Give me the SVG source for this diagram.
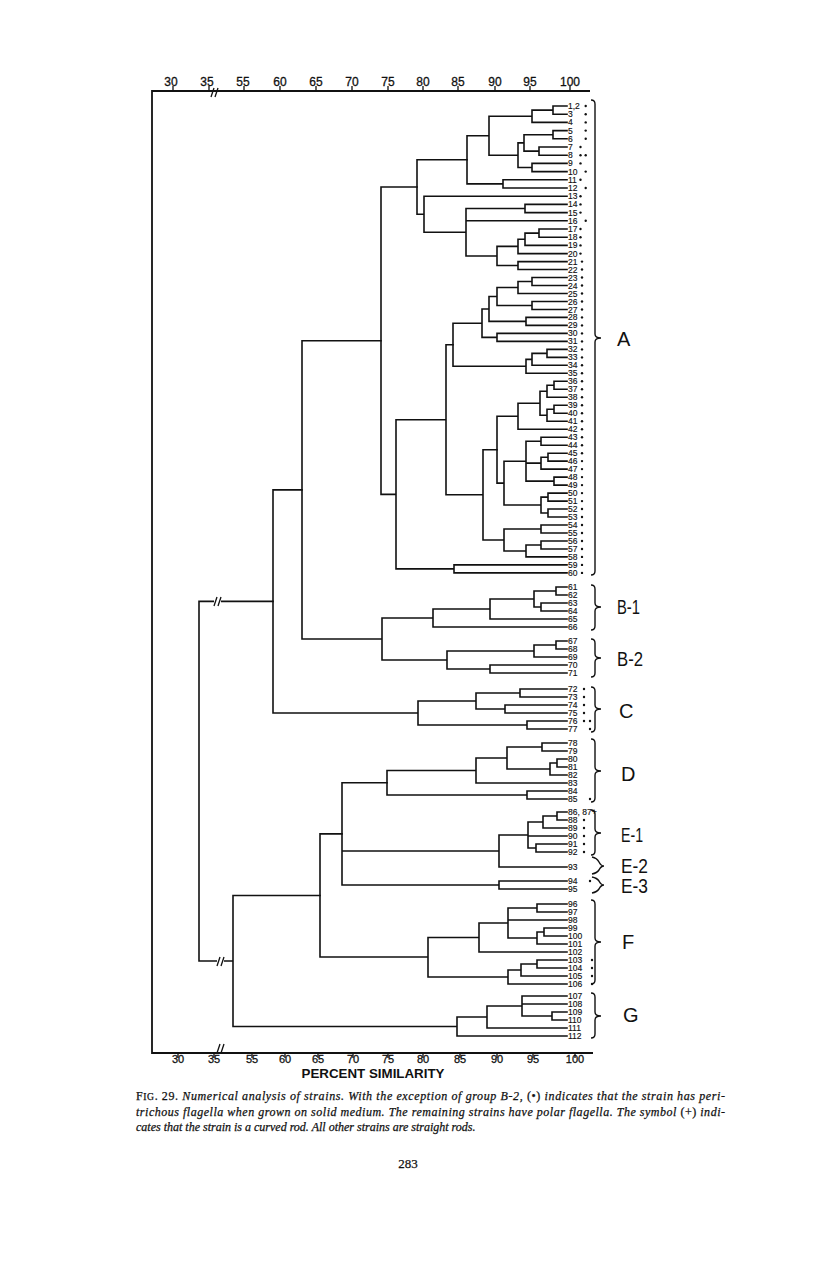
<svg xmlns="http://www.w3.org/2000/svg" width="816" height="1262" viewBox="0 0 816 1262">
<style>
.c{fill:none;stroke:#111;stroke-width:1.6;stroke-linecap:square}
.ax{fill:none;stroke:#111;stroke-width:1.8}
.tk{fill:none;stroke:#111;stroke-width:1.3}
.lf{font-family:"Liberation Sans",Arial,sans-serif;font-size:8.5px;fill:#111;stroke:#111;stroke-width:0.15}
.d{fill:#111}
.br{fill:none;stroke:#111;stroke-width:1.4}
.gl{font-family:"Liberation Sans",Arial,sans-serif;font-size:20px;fill:#111}
.tl{font-family:"Liberation Sans",Arial,sans-serif;font-size:12px;fill:#111;text-anchor:middle;stroke:#111;stroke-width:0.3}
.bl{font-family:"Liberation Sans",Arial,sans-serif;font-size:11px;fill:#111;text-anchor:middle;stroke:#111;stroke-width:0.3}
.cap{font-family:"Liberation Serif","Times New Roman",serif;font-size:12px;font-style:italic;fill:#111;stroke:#111;stroke-width:0.25}
</style>
<rect width="816" height="1262" fill="#fff"/>
<g id="axes">
<path class="ax" d="M590 91 H152 V1053 H593"/>
<g class="tk">
<path d="M173 91 V86 M209 91 V86 M244 91 V86 M280 91 V86 M316 91 V86 M352 91 V86 M388 91 V86 M423 91 V86 M458 91 V86 M495 91 V86 M530 91 V86 M570 91 V86"/>
<path d="M178 1053 V1058 M214 1053 V1058 M252 1053 V1058 M285 1053 V1058 M318 1053 V1058 M353 1053 V1058 M388 1053 V1058 M423 1053 V1058 M460 1053 V1058 M497 1053 V1058 M533 1053 V1058 M575 1053 V1058"/>
<path d="M211 97 L214 88 M215 97 L218 88"/>
<path d="M217 1053 L220 1044 M221 1053 L224 1044"/>
</g>
<text class="tl" x="171" y="86">30</text>
<text class="tl" x="207" y="86">35</text>
<text class="tl" x="243" y="86">55</text>
<text class="tl" x="280" y="86">60</text>
<text class="tl" x="316" y="86">65</text>
<text class="tl" x="352" y="86">70</text>
<text class="tl" x="388" y="86">75</text>
<text class="tl" x="423" y="86">80</text>
<text class="tl" x="458" y="86">85</text>
<text class="tl" x="495" y="86">90</text>
<text class="tl" x="530" y="86">95</text>
<text class="tl" x="570" y="86">100</text>
<text class="bl" x="178" y="1063">30</text>
<text class="bl" x="214" y="1063">35</text>
<text class="bl" x="252" y="1063">55</text>
<text class="bl" x="285" y="1063">60</text>
<text class="bl" x="318" y="1063">65</text>
<text class="bl" x="353" y="1063">70</text>
<text class="bl" x="388" y="1063">75</text>
<text class="bl" x="423" y="1063">80</text>
<text class="bl" x="460" y="1063">85</text>
<text class="bl" x="497" y="1063">90</text>
<text class="bl" x="533" y="1063">95</text>
<text class="bl" x="575" y="1063">100</text>
<text x="373" y="1078" text-anchor="middle" font-family="Liberation Sans,Arial,sans-serif" font-size="13" font-weight="bold" fill="#111" textLength="143" lengthAdjust="spacingAndGlyphs">PERCENT  SIMILARITY</text>
</g>
<g id="connectors">
<path class="c" d="M567 106 H553 V114.2 H567 M553 110.1 H532 V122.4 H567 M567 130.6 H553 V138.8 H567 M567 147 H539 V155.2 H567 M553 134.7 H524 V151.1 H539 M567 163.4 H532 V171.6 H567 M524 142.9 H518 V167.5 H532 M532 116.25 H489 V155.2 H518 M567 179.8 H503 V188 H567 M489 135.7 H467 V183.9 H503"/>
<path class="c" d="M567 204.4 H525 V212.6 H567 M567 229 H539 V237.2 H567 M539 233.1 H525 V245.4 H567 M525 239.25 H518 V253.6 H567 M567 261.6 H518 V269.5 H567 M518 246.4 H497 V265.55 H518 M525 208.5 H466 V256 H497 M466 220.8 H567 M567 196.2 H424 V232.25 H466 M467 159.8 H417 V214.2 H424"/>
<path class="c" d="M567 277.5 H532 V285.5 H567 M532 281.5 H518 V293.5 H567 M567 301.5 H532 V309.5 H567 M518 287.5 H497 V305.5 H532 M567 317.4 H526 V325.4 H567 M497 296.5 H489 V321.4 H526 M567 333.4 H497 V341.4 H567 M489 309 H482 V337.4 H497 M567 349.4 H547 V357.4 H567 M547 353.4 H532 V365.3 H567 M532 359.4 H526 V373.3 H567 M482 323.2 H453 V366.3 H526"/>
<path class="c" d="M567 381.3 H554 V389.3 H567 M554 385.3 H547 V397.3 H567 M567 405.3 H554 V413.2 H567 M554 409.3 H547 V421.2 H567 M547 391.3 H540 V415.2 H547 M540 403.3 H518 V429.2 H567 M567 437.2 H541 V445.2 H567 M567 453.2 H548 V461.1 H567 M548 457.2 H541 V469.1 H567 M567 477.1 H554 V485.1 H567 M541 441.2 H526 V481.1 H554 M526 463.1 H541 M567 493.1 H548 V501.1 H567 M567 509 H548 V517 H567 M548 497.1 H541 V513 H548 M526 461.2 H504 V505 H541 M518 416.2 H497 V483.1 H504"/>
<path class="c" d="M567 525 H541 V533 H567 M567 541 H541 V549 H567 M541 545 H526 V556.9 H567 M541 529 H504 V551 H526 M497 449.7 H483 V540 H504 M453 344.8 H446 V494.8 H483 M567 564.9 H454 V572.9 H567 M446 419.8 H396 V568.9 H454 M417 187 H381 V494.4 H396"/>
<path class="c" d="M567 587 H556 V595 H567 M567 603 H541 V611 H567 M556 591 H534 V607 H541 M534 599 H490 V619 H567 M490 609 H433 V627 H567 M567 641 H556 V649 H567 M556 645 H534 V657 H567 M567 665 H490 V673 H567 M534 651 H447 V669 H490 M433 618 H382 V660 H447 M381 340.7 H302 V639 H382"/>
<path class="c" d="M567 689 H520 V697 H567 M567 705 H505 V713 H567 M520 693 H476 V709 H505 M567 721 H527 V729 H567 M476 701 H418 V725 H527 M302 489.9 H273 V713 H418"/>
<path class="c" d="M567 743 H542 V751 H567 M567 759 H557 V767 H567 M557 763 H550 V775 H567 M542 747 H507 V769 H550 M507 758 H476 V783 H567 M567 791 H527 V799 H567 M476 770.5 H387 V795 H527"/>
<path class="c" d="M567 812 H557 V820 H567 M557 816 H543 V828 H567 M567 844 H536 V852 H567 M543 822 H528 V848 H536 M528 836 H567 M528 835 H499 V867 H567 M567 881 H499 V889 H567 M387 782.75 H342 V885 H499 M342 851 H499"/>
<path class="c" d="M567 904 H537 V912 H567 M567 928 H544 V936 H567 M544 932 H537 V944 H567 M537 908 H508 V938 H537 M508 920 H567 M508 923 H479 V952 H567 M567 960 H537 V968 H567 M537 964 H521 V976 H567 M521 970 H508 V984 H567 M479 937.5 H428 V977 H508 M342 833.9 H320 V957 H428"/>
<path class="c" d="M567 1012 H552 V1020 H567 M567 996 H522 V1016 H552 M522 1004 H567 M522 1006 H487 V1028 H567 M487 1017 H457 V1036 H567 M320 895.5 H233 V1026.5 H457 M273 601.4 H199 V961 H233"/>
<rect x="214" y="598" width="7" height="7" fill="#fff"/>
<rect x="217" y="957" width="7" height="7" fill="#fff"/>
<path class="tk" d="M214 606 L217 597 M218 606 L221 597 M217 966 L220 957 M221 966 L224 957"/>
</g>
<g id="leaves-A" class="lf">
<text x="568" y="109">1,2</text><text x="568" y="117.2">3</text><text x="568" y="125.4">4</text><text x="568" y="133.6">5</text><text x="568" y="141.8">6</text><text x="568" y="150">7</text><text x="568" y="158.2">8</text><text x="568" y="166.4">9</text><text x="568" y="174.6">10</text><text x="568" y="182.8">11</text><text x="568" y="191">12</text><text x="568" y="199.2">13</text><text x="568" y="207.4">14</text><text x="568" y="215.6">15</text><text x="568" y="223.8">16</text><text x="568" y="232">17</text><text x="568" y="240.2">18</text><text x="568" y="248.4">19</text><text x="568" y="256.6">20</text><text x="568" y="264.6">21</text><text x="568" y="272.5">22</text><text x="568" y="280.5">23</text><text x="568" y="288.5">24</text><text x="568" y="296.5">25</text><text x="568" y="304.5">26</text><text x="568" y="312.5">27</text><text x="568" y="320.4">28</text><text x="568" y="328.4">29</text><text x="568" y="336.4">30</text><text x="568" y="344.4">31</text><text x="568" y="352.4">32</text><text x="568" y="360.4">33</text><text x="568" y="368.3">34</text><text x="568" y="376.3">35</text><text x="568" y="384.3">36</text><text x="568" y="392.3">37</text><text x="568" y="400.3">38</text><text x="568" y="408.3">39</text><text x="568" y="416.2">40</text><text x="568" y="424.2">41</text><text x="568" y="432.2">42</text><text x="568" y="440.2">43</text><text x="568" y="448.2">44</text><text x="568" y="456.2">45</text><text x="568" y="464.1">46</text><text x="568" y="472.1">47</text><text x="568" y="480.1">48</text><text x="568" y="488.1">49</text><text x="568" y="496.1">50</text><text x="568" y="504.1">51</text><text x="568" y="512">52</text><text x="568" y="520">53</text><text x="568" y="528">54</text><text x="568" y="536">55</text><text x="568" y="544">56</text><text x="568" y="552">57</text><text x="568" y="559.9">58</text><text x="568" y="567.9">59</text><text x="568" y="575.9">60</text>
</g>
<g id="leaves-B1" class="lf"><text x="568" y="590">61</text><text x="568" y="598">62</text><text x="568" y="606">63</text><text x="568" y="614">64</text><text x="568" y="622">65</text><text x="568" y="630">66</text></g>
<g id="leaves-B2" class="lf"><text x="568" y="644">67</text><text x="568" y="652">68</text><text x="568" y="660">69</text><text x="568" y="668">70</text><text x="568" y="676">71</text></g>
<g id="leaves-C" class="lf"><text x="568" y="692">72</text><text x="568" y="700">73</text><text x="568" y="708">74</text><text x="568" y="716">75</text><text x="568" y="724">76</text><text x="568" y="732">77</text></g>
<g id="leaves-D" class="lf"><text x="568" y="746">78</text><text x="568" y="754">79</text><text x="568" y="762">80</text><text x="568" y="770">81</text><text x="568" y="778">82</text><text x="568" y="786">83</text><text x="568" y="794">84</text><text x="568" y="802">85</text></g>
<g id="leaves-E" class="lf"><text x="568" y="815">86, 87+</text><text x="568" y="823">88</text><text x="568" y="831">89</text><text x="568" y="839">90</text><text x="568" y="847">91</text><text x="568" y="855">92</text><text x="568" y="870">93</text><text x="568" y="884">94</text><text x="568" y="892">95</text></g>
<g id="leaves-F" class="lf"><text x="568" y="907">96</text><text x="568" y="915">97</text><text x="568" y="923">98</text><text x="568" y="931">99</text><text x="568" y="939">100</text><text x="568" y="947">101</text><text x="568" y="955">102</text><text x="568" y="963">103</text><text x="568" y="971">104</text><text x="568" y="979">105</text><text x="568" y="987">106</text></g>
<g id="leaves-G" class="lf"><text x="568" y="999">107</text><text x="568" y="1007">108</text><text x="568" y="1015">109</text><text x="568" y="1023">110</text><text x="568" y="1031">111</text><text x="568" y="1039">112</text></g>
<g id="dots" class="d">
<circle cx="585.7" cy="106" r="1.2"/><circle cx="585.7" cy="114.2" r="1.2"/><circle cx="585.7" cy="122.4" r="1.2"/><circle cx="585.7" cy="130.6" r="1.2"/><circle cx="585.7" cy="138.8" r="1.2"/><circle cx="585.7" cy="155.2" r="1.2"/><circle cx="585.7" cy="171.6" r="1.2"/><circle cx="585.7" cy="188" r="1.2"/><circle cx="585.7" cy="220.8" r="1.2"/>
<circle cx="580.5" cy="147" r="1.2"/><circle cx="580.5" cy="155.2" r="1.2"/><circle cx="580.5" cy="163.4" r="1.2"/><circle cx="580.5" cy="179.8" r="1.2"/><circle cx="580.5" cy="196.2" r="1.2"/><circle cx="580.5" cy="204.4" r="1.2"/><circle cx="580.5" cy="212.6" r="1.2"/><circle cx="580.5" cy="229" r="1.2"/><circle cx="580.5" cy="237.2" r="1.2"/><circle cx="580.5" cy="245.4" r="1.2"/><circle cx="580.5" cy="253.6" r="1.2"/>
<circle cx="582" cy="261.6" r="1.2"/><circle cx="582" cy="269.5" r="1.2"/><circle cx="582" cy="277.5" r="1.2"/><circle cx="582" cy="285.5" r="1.2"/><circle cx="582" cy="293.5" r="1.2"/><circle cx="582" cy="301.5" r="1.2"/><circle cx="582" cy="309.5" r="1.2"/><circle cx="582" cy="317.4" r="1.2"/><circle cx="582" cy="325.4" r="1.2"/><circle cx="582" cy="333.4" r="1.2"/><circle cx="582" cy="341.4" r="1.2"/><circle cx="582" cy="349.4" r="1.2"/><circle cx="582" cy="357.4" r="1.2"/><circle cx="582" cy="365.3" r="1.2"/><circle cx="582" cy="373.3" r="1.2"/><circle cx="582" cy="381.3" r="1.2"/><circle cx="582" cy="389.3" r="1.2"/><circle cx="582" cy="397.3" r="1.2"/><circle cx="582" cy="405.3" r="1.2"/><circle cx="582" cy="413.2" r="1.2"/><circle cx="582" cy="421.2" r="1.2"/><circle cx="582" cy="429.2" r="1.2"/><circle cx="582" cy="437.2" r="1.2"/><circle cx="582" cy="445.2" r="1.2"/><circle cx="582" cy="453.2" r="1.2"/><circle cx="582" cy="461.1" r="1.2"/><circle cx="582" cy="469.1" r="1.2"/><circle cx="582" cy="477.1" r="1.2"/><circle cx="582" cy="485.1" r="1.2"/><circle cx="582" cy="493.1" r="1.2"/><circle cx="582" cy="501.1" r="1.2"/><circle cx="582" cy="509" r="1.2"/><circle cx="582" cy="517" r="1.2"/><circle cx="582" cy="525" r="1.2"/><circle cx="582" cy="533" r="1.2"/><circle cx="582" cy="541" r="1.2"/><circle cx="582" cy="549" r="1.2"/><circle cx="582" cy="556.9" r="1.2"/><circle cx="582" cy="564.9" r="1.2"/><circle cx="582" cy="572.9" r="1.2"/>
<circle cx="584" cy="689" r="1.2"/><circle cx="584" cy="697" r="1.2"/><circle cx="584" cy="705" r="1.2"/><circle cx="584" cy="713" r="1.2"/><circle cx="584" cy="721" r="1.2"/><circle cx="590" cy="721" r="1.2"/><circle cx="590" cy="729" r="1.2"/>
<circle cx="590" cy="799" r="1.2"/>
<circle cx="584" cy="820" r="1.2"/><circle cx="584" cy="828" r="1.2"/><circle cx="584" cy="836" r="1.2"/><circle cx="584" cy="844" r="1.2"/><circle cx="584" cy="852" r="1.2"/>
<circle cx="590" cy="881" r="1.2"/>
<circle cx="592" cy="960" r="1.2"/><circle cx="592" cy="968" r="1.2"/><circle cx="592" cy="976" r="1.2"/><circle cx="592" cy="984" r="1.2"/>
</g>
<g id="group-A"><path class="br" d="M591 100 Q595 100 595 104 V334 Q595 338 601 338 Q595 338 595 342 V571 Q595 575 591 575"/><text class="gl" x="617" y="346" font-size="21">A</text></g>
<g id="group-B1"><path class="br" d="M591 585 Q595 585 595 589 V603 Q595 607 601 607 Q595 607 595 611 V626 Q595 630 591 630"/><text class="gl" x="617" y="614" font-size="18" textLength="23" lengthAdjust="spacingAndGlyphs">B-1</text></g>
<g id="group-B2"><path class="br" d="M591 639 Q595 639 595 643 V654 Q595 658 601 658 Q595 658 595 662 V673 Q595 677 591 677"/><text class="gl" x="617" y="666" font-size="18" textLength="26" lengthAdjust="spacingAndGlyphs">B-2</text></g>
<g id="group-C"><path class="br" d="M591 687 Q595 687 595 691 V705 Q595 709 601 709 Q595 709 595 713 V728 Q595 732 591 732"/><text class="gl" x="619" y="718" font-size="17">C</text></g>
<g id="group-D"><path class="br" d="M591 739 Q595 739 595 743 V767 Q595 771 601 771 Q595 771 595 775 V798 Q595 802 591 802"/><text class="gl" x="621" y="781" font-size="18">D</text></g>
<g id="group-E1"><path class="br" d="M591 810 Q595 810 595 814 V829 Q595 833 601 833 Q595 833 595 837 V851 Q595 855 591 855"/><text class="gl" x="621" y="842" font-size="19" textLength="22" lengthAdjust="spacingAndGlyphs">E-1</text></g>
<g id="group-E2"><path class="br" d="M592 857 Q597 858 599 862 Q601 866 604 866 Q601 866 599 870 Q597 873 592 874"/><text class="gl" x="621" y="873" font-size="18" textLength="27" lengthAdjust="spacingAndGlyphs">E-2</text></g>
<g id="group-E3"><path class="br" d="M592 877 Q597 878 599 881 Q601 885 604 885 Q601 885 599 889 Q597 892 592 893"/><text class="gl" x="621" y="893" font-size="18" textLength="27" lengthAdjust="spacingAndGlyphs">E-3</text></g>
<g id="group-F"><path class="br" d="M591 900 Q595 900 595 904 V938 Q595 942 601 942 Q595 942 595 946 V980 Q595 984 591 984"/><text class="gl" x="622" y="949" font-size="18">F</text></g>
<g id="group-G"><path class="br" d="M591 993 Q595 993 595 997 V1012 Q595 1016 601 1016 Q595 1016 595 1020 V1034 Q595 1038 591 1038"/><text class="gl" x="623" y="1022" font-size="18">G</text></g>
<g id="caption">
<text class="cap" x="136" y="1100" textLength="589" lengthAdjust="spacing"><tspan font-style="normal">F<tspan font-size="9.6">IG</tspan>. 29. </tspan>Numerical analysis of strains. With the exception of group B-2, <tspan font-style="normal">(•)</tspan> indicates that the strain has peri-</text>
<text class="cap" x="136" y="1116" textLength="589" lengthAdjust="spacing">trichous flagella when grown on solid medium. The remaining strains have polar flagella. The symbol <tspan font-style="normal">(+)</tspan> indi-</text>
<text class="cap" x="136" y="1131">cates that the strain is a curved rod. All other strains are straight rods.</text>
<text x="408" y="1168" text-anchor="middle" font-family="Liberation Serif,Times New Roman,serif" font-size="13" fill="#111" stroke="#111" stroke-width="0.25">283</text>
</g>
</svg>
